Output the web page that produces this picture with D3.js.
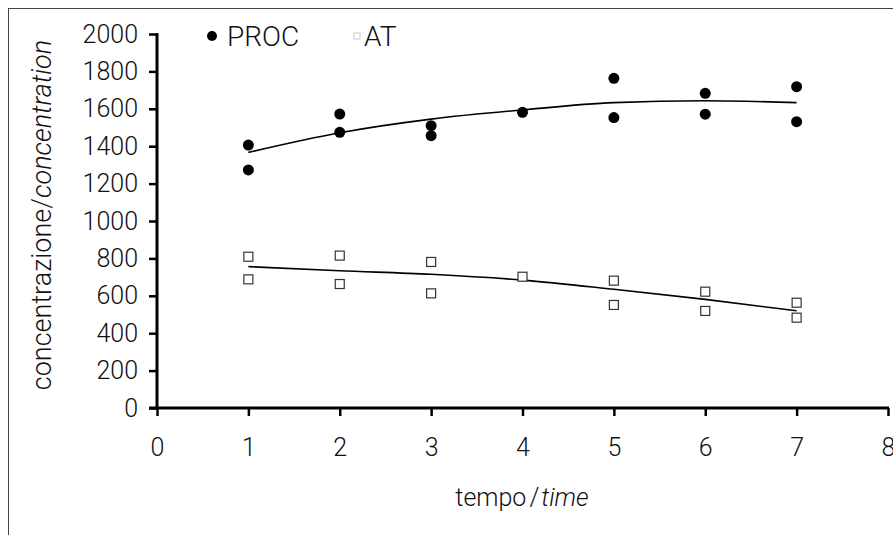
<!DOCTYPE html>
<html><head><meta charset="utf-8">
<script src="https://cdn.jsdelivr.net/npm/d3@7/dist/d3.min.js"></script>
<style>
html,body{margin:0;padding:0;background:#fff;}
svg{display:block;}
text{font-family:Roboto,"Liberation Sans",sans-serif;font-weight:300;fill:#111;}
</style></head>
<body><svg id="chart" width="893" height="535"></svg>
<script>
// ---- data ----
const times = [1, 2, 3, 4, 5, 6, 7];
const procA = [1406, 1572, 1510, 1581, 1763, 1683, 1718];
const procB = [1273, 1474, 1456, null, 1553, 1571, 1531];
const atA   = [809, 815, 781, 702, 681, 622, 563];
const atB   = [688, 663, 613, null, 551, 519, 483];
const procTrend = [1367, 1472, 1545, 1594, 1633, 1643, 1633];
const atTrend   = [756, 734, 715, 684, 635, 581, 520];
const xTicks = [0, 1, 2, 3, 4, 5, 6, 7, 8];
const yTicks = [0, 200, 400, 600, 800, 1000, 1200, 1400, 1600, 1800, 2000];
const seriesNames = ["PROC", "AT"];

const svg = d3.select("#chart");
const x = d3.scaleLinear().domain([0, 8]).range([157, 888]);
const y = d3.scaleLinear().domain([0, 2000]).range([408, 34]);

// outer frame
svg.append("rect").attr("x", 8.5).attr("y", 8.5).attr("width", 900).attr("height", 540)
  .attr("fill", "none").attr("stroke", "#444").attr("stroke-width", 1);

// axes
const yAxis = svg.append("g").attr("transform", `translate(${x(0)},0)`)
  .call(d3.axisLeft(y).tickValues(yTicks).tickSize(8).tickPadding(11).tickFormat(d3.format("d")));
const xAxis = svg.append("g").attr("transform", `translate(0,${y(0)})`)
  .call(d3.axisBottom(x).tickValues(xTicks).tickSize(8).tickPadding(22).tickFormat(d3.format("d")));
[yAxis, xAxis].forEach(g => {
  g.select(".domain").remove();
  g.selectAll(".tick line").attr("stroke", "#000").attr("stroke-width", 2.5);
  g.selectAll(".tick text").style("font-size", "25px").attr("fill", "#111");
});
svg.append("line").attr("x1", x(0)).attr("x2", x(0)).attr("y1", y(2000) - 1).attr("y2", y(0) + 1)
  .attr("stroke", "#000").attr("stroke-width", 3);
svg.append("line").attr("x1", x(0) - 8).attr("x2", x(8) + 1).attr("y1", y(0)).attr("y2", y(0))
  .attr("stroke", "#000").attr("stroke-width", 3);

// trend lines
const line = d3.line().x((d, i) => x(times[i])).y(d => y(d)).curve(d3.curveMonotoneX);
[procTrend, atTrend].forEach(t => {
  svg.append("path").attr("d", line(t)).attr("fill", "none").attr("stroke", "#000").attr("stroke-width", 1.6);
});

// PROC points
const procPts = [];
times.forEach((t, i) => { [procA[i], procB[i]].forEach(v => { if (v != null) procPts.push([t, v]); }); });
svg.append("g").selectAll("circle").data(procPts).join("circle")
  .attr("cx", d => x(d[0])).attr("cy", d => y(d[1])).attr("r", 5.5).attr("fill", "#000");

// AT points
const atPts = [];
times.forEach((t, i) => { [atA[i], atB[i]].forEach(v => { if (v != null) atPts.push([t, v]); }); });
svg.append("g").selectAll("rect").data(atPts).join("rect")
  .attr("x", d => x(d[0]) - 4.5).attr("y", d => y(d[1]) - 4.5).attr("width", 9).attr("height", 9)
  .attr("fill", "#fff").attr("stroke", "#333").attr("stroke-width", 1.2);

// legend
const ly = 36;
svg.append("circle").attr("cx", 212).attr("cy", ly).attr("r", 5).attr("fill", "#000");
svg.append("text").attr("x", 227).attr("y", ly + 10).style("font-size", "28px").text(seriesNames[0]);
svg.append("rect").attr("x", 354).attr("y", ly - 3).attr("width", 6).attr("height", 6)
  .attr("fill", "#fff").attr("stroke", "#ccc").attr("stroke-width", 1);
svg.append("text").attr("x", 364).attr("y", ly + 10).style("font-size", "28px").text(seriesNames[1]);

// axis titles
const yt = svg.append("text").attr("transform", "translate(51,215) rotate(-90)")
  .attr("text-anchor", "middle").style("font-size", "27px");
yt.append("tspan").text("concentrazione/");
yt.append("tspan").style("font-style", "italic").text("concentration");

const xt = svg.append("text").attr("x", 522).attr("y", 506).attr("text-anchor", "middle").style("font-size", "25px");
xt.append("tspan").text("tempo");
xt.append("tspan").attr("dx", 3).text("/");
xt.append("tspan").attr("dx", 2).style("font-style", "italic").text("time");
</script></body></html>
